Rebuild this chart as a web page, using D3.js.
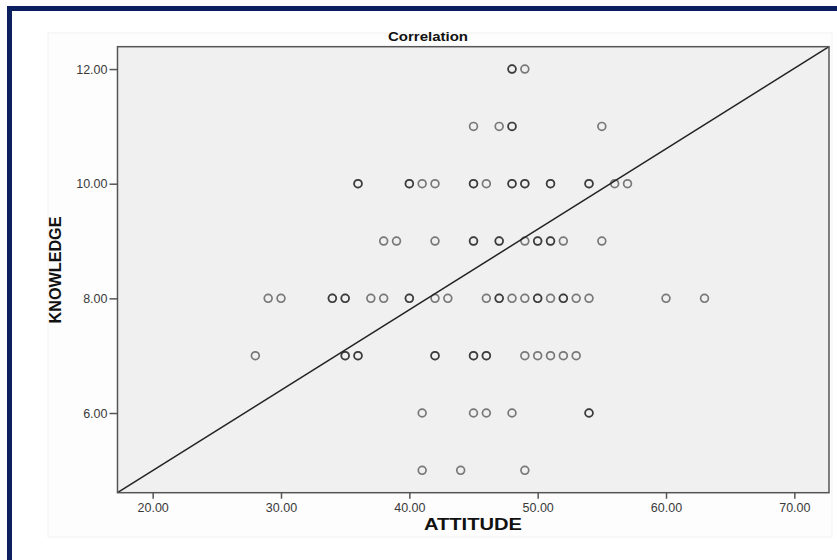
<!DOCTYPE html>
<html>
<head>
<meta charset="utf-8">
<script src="https://cdn.jsdelivr.net/npm/d3@7"></script>
<style>
  body { margin: 0; background: #fff; }
  svg { display: block; font-family: Arial, "Liberation Sans", sans-serif; }
  .tick text { fill: #3a3a3a; font-size: 12.5px; }
  .tick line { stroke: #555; stroke-width: 1.5; }
</style>
</head>
<body>
<div id="chart"></div>
<script>
// Data: attitude scores for each knowledge level
var knowledgeLevels = [12, 11, 10, 9, 8, 7, 6, 5];
var attitudeByLevel = [
  [48, 48, 49],
  [45, 47, 48, 48, 55],
  [36, 36, 40, 40, 41, 42, 45, 45, 46, 48, 48, 49, 49, 51, 51, 54, 54, 56, 57],
  [38, 39, 42, 45, 45, 47, 47, 49, 50, 50, 51, 51, 52, 55],
  [29, 30, 34, 34, 35, 35, 37, 38, 40, 40, 42, 43, 46, 47, 47, 48, 49, 50, 50, 51, 52, 52, 53, 54, 60, 63],
  [28, 35, 35, 36, 36, 42, 42, 45, 45, 46, 46, 49, 50, 51, 52, 53],
  [41, 45, 46, 48, 54, 54],
  [41, 44, 49]
];
var xTicks = [20, 30, 40, 50, 60, 70];
var yTicks = [6, 8, 10, 12];
var xDomain = [17.26, 72.7];
var yDomain = [4.61, 12.39];
// reference line end points (attitude, knowledge)
var lineAttitude = [17.26, 72.7];
var lineKnowledge = [4.61, 12.39];

var width = 837,
    height = 560;

var plot = {left: 117.5, top: 46.7, right: 829, bottom: 492.7};

var svg = d3.select("#chart").append("svg")
    .attr("width", width)
    .attr("height", height);

// outer navy frame
svg.append("rect")
    .attr("x", 9.5).attr("y", 8.5)
    .attr("width", 900).attr("height", 700)
    .attr("fill", "none")
    .attr("stroke", "#0c1f5e")
    .attr("stroke-width", 5);

// chart panel
svg.append("rect")
    .attr("x", 48).attr("y", 33)
    .attr("width", 784).attr("height", 504)
    .attr("fill", "#fdfdfd")
    .attr("stroke", "#f2f2f2");

var x = d3.scaleLinear().domain(xDomain).range([plot.left, plot.right]);
var y = d3.scaleLinear().domain(yDomain).range([plot.bottom, plot.top]);

svg.append("rect")
    .attr("x", plot.left).attr("y", plot.top)
    .attr("width", plot.right - plot.left)
    .attr("height", plot.bottom - plot.top)
    .attr("fill", "#f0f0f0");

var points = [];
knowledgeLevels.forEach(function(k, i) {
    attitudeByLevel[i].forEach(function(a) {
        points.push({attitude: a, knowledge: k});
    });
});

svg.selectAll(".dot")
    .data(points)
  .enter().append("circle")
    .attr("class", "dot")
    .attr("cx", function(d) { return x(d.attitude); })
    .attr("cy", function(d) { return y(d.knowledge); })
    .attr("r", 3.9)
    .attr("fill", "none")
    .attr("stroke", "#000")
    .attr("stroke-opacity", 0.5)
    .attr("stroke-width", 1.7);

var line = d3.line()
    .x(function(d) { return x(d[0]); })
    .y(function(d) { return y(d[1]); });

svg.append("path")
    .datum(d3.zip(lineAttitude, lineKnowledge))
    .attr("d", line)
    .attr("fill", "none")
    .attr("stroke", "#222")
    .attr("stroke-width", 1.5);

// plot frame
svg.append("rect")
    .attr("x", plot.left).attr("y", plot.top)
    .attr("width", plot.right - plot.left)
    .attr("height", plot.bottom - plot.top)
    .attr("fill", "none")
    .attr("stroke", "#555")
    .attr("stroke-width", 1.5);

var xAxis = svg.append("g")
    .attr("transform", "translate(0," + plot.bottom + ")")
    .call(d3.axisBottom(x).tickValues(xTicks).tickFormat(d3.format(".2f")).tickSize(6).tickPadding(4));
xAxis.select(".domain").remove();

var yAxis = svg.append("g")
    .attr("transform", "translate(" + plot.left + ",0)")
    .call(d3.axisLeft(y).tickValues(yTicks).tickFormat(d3.format(".2f")).tickSize(8).tickPadding(2));
yAxis.select(".domain").remove();

svg.append("text")
    .attr("x", 428).attr("y", 41)
    .attr("text-anchor", "middle")
    .attr("font-size", 12)
    .attr("font-weight", "bold")
    .attr("fill", "#111")
    .attr("textLength", 80)
    .attr("lengthAdjust", "spacingAndGlyphs")
    .text("Correlation");

svg.append("text")
    .attr("x", 473).attr("y", 530)
    .attr("text-anchor", "middle")
    .attr("font-size", 16)
    .attr("font-weight", "bold")
    .attr("fill", "#111")
    .attr("textLength", 98)
    .attr("lengthAdjust", "spacingAndGlyphs")
    .text("ATTITUDE");

svg.append("text")
    .attr("transform", "translate(61,270) rotate(-90)")
    .attr("text-anchor", "middle")
    .attr("font-size", 16)
    .attr("font-weight", "bold")
    .attr("fill", "#111")
    .attr("textLength", 107)
    .attr("lengthAdjust", "spacingAndGlyphs")
    .text("KNOWLEDGE");
</script>
</body>
</html>
